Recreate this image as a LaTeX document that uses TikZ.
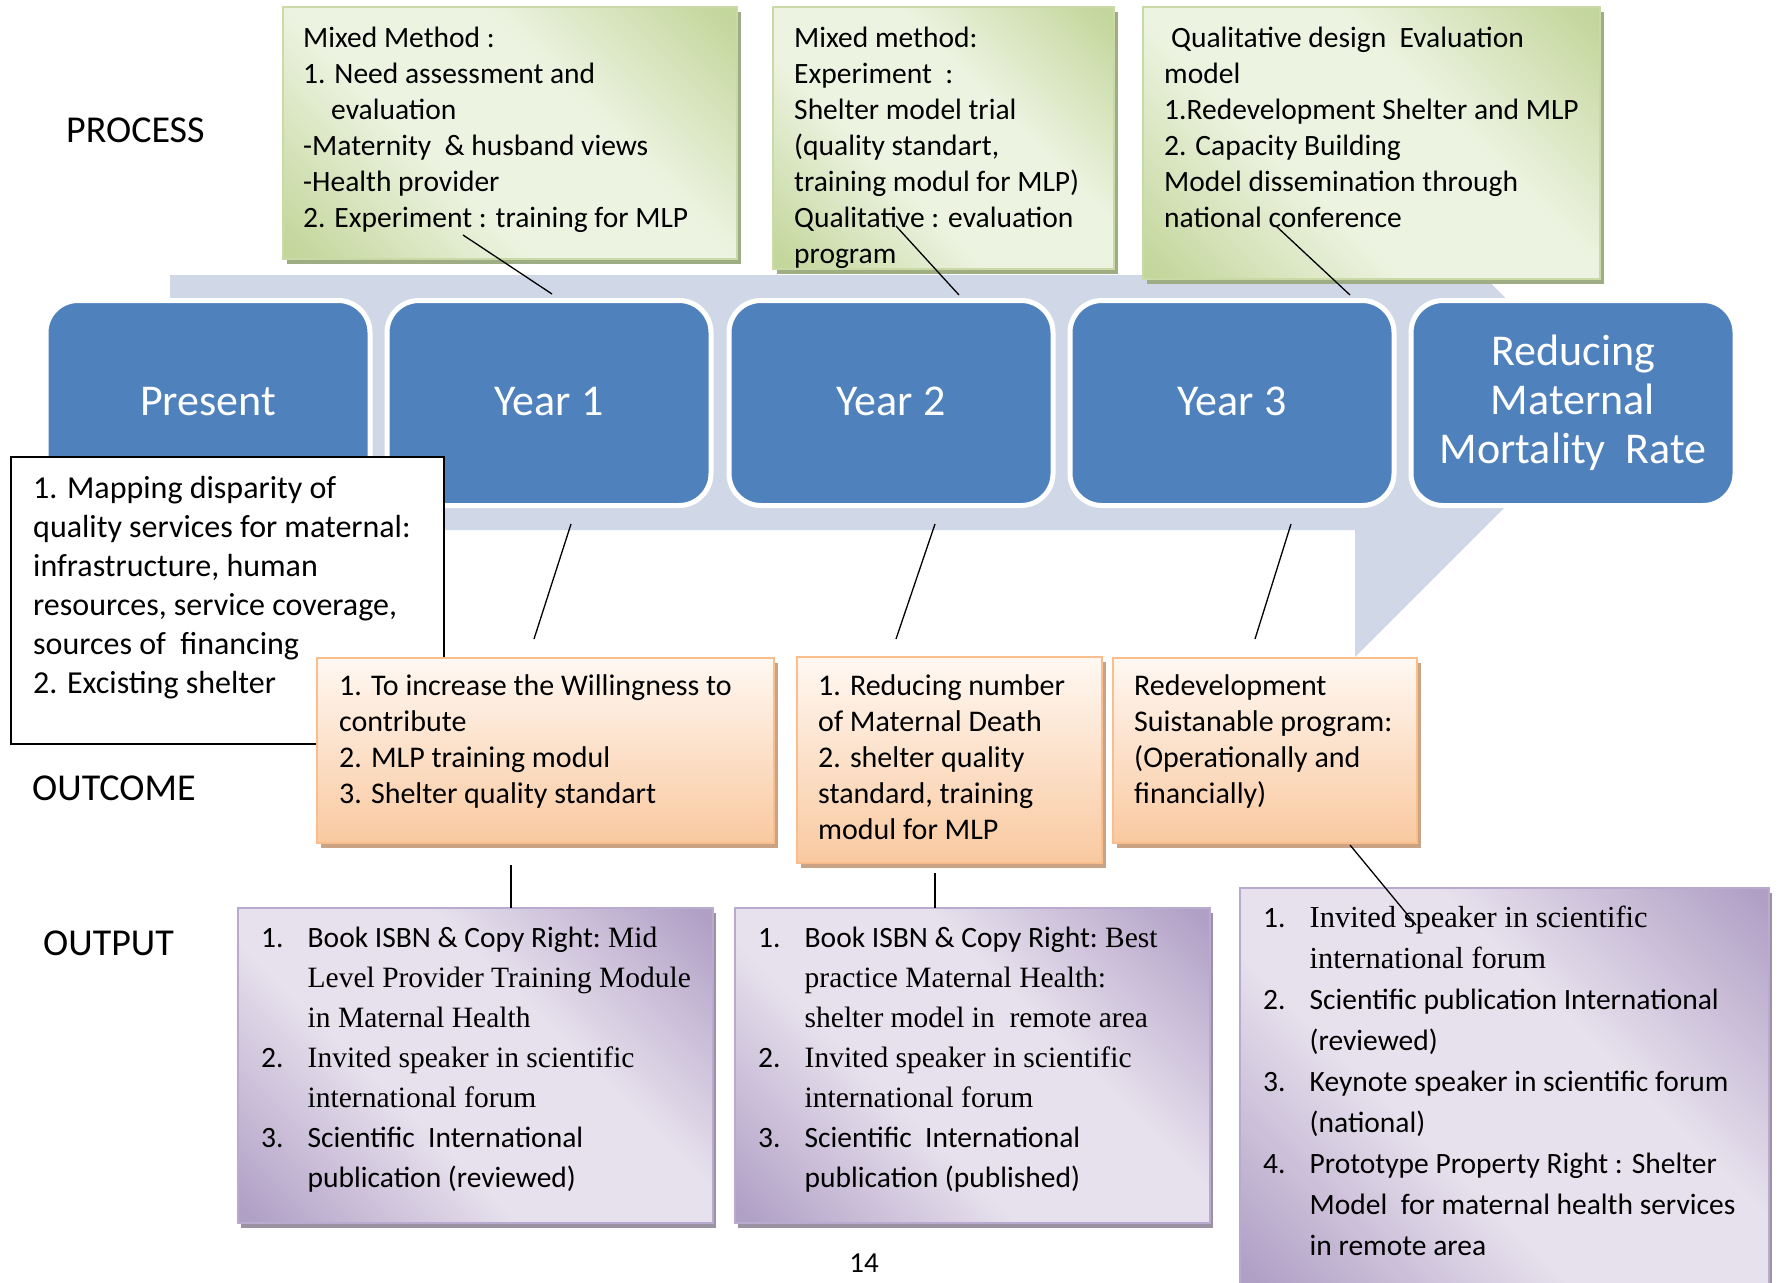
\documentclass[tikz,border=0pt]{standalone}
\usepackage{fontspec}
\setmainfont{Carlito}
\newfontfamily\tms{Liberation Serif}
\usetikzlibrary{shadows}
\definecolor{bandC}{HTML}{D0D8E8}
\definecolor{blueF}{HTML}{4F81BD}
\definecolor{gLight}{HTML}{EDF3E1}
\definecolor{gDark}{HTML}{C3D69B}
\definecolor{gBorder}{HTML}{C9DAA6}
\definecolor{gShadow}{HTML}{9EAD84}
\definecolor{oTop}{HTML}{FFF8F2}
\definecolor{oBot}{HTML}{F9C9A0}
\definecolor{oBorder}{HTML}{F9BE8C}
\definecolor{oShadow}{HTML}{C9A383}
\definecolor{pLight}{HTML}{E7E1ED}
\definecolor{pDark}{HTML}{B1A0C6}
\definecolor{pBorder}{HTML}{B9AACF}
\definecolor{pShadow}{HTML}{9A92A3}
\pgfdeclareverticalshading{gdiag}{100bp}{color(0bp)=(gDark); color(16bp)=(gDark); color(40bp)=(gLight); color(60bp)=(gLight); color(84bp)=(gDark); color(100bp)=(gDark)}
\pgfdeclareverticalshading{pdiag}{100bp}{color(0bp)=(pDark); color(16bp)=(pDark); color(40bp)=(pLight); color(60bp)=(pLight); color(84bp)=(pDark); color(100bp)=(pDark)}
\newcommand\pnum[1]{\makebox[46.5pt][l]{#1}}
\newcommand\pind{\makebox[46.5pt][l]{}}
\begin{document}
\begin{tikzpicture}[x=1pt,y=-1pt,
  bluebox/.style={rectangle, rounded corners=32pt, fill=blueF, draw=white, line width=5pt,
    minimum width=324pt, minimum height=205pt, inner sep=0pt},
  greenbox/.style={rectangle, inner sep=0pt, draw=gBorder, line width=1.5pt,
    shading=gdiag, shading angle=-45,
    drop shadow={shadow xshift=4pt, shadow yshift=-5pt, fill=gShadow, opacity=1}},
  orangebox/.style={rectangle, inner sep=0pt, draw=oBorder, line width=2pt,
    top color=oTop, bottom color=oBot,
    drop shadow={shadow xshift=4pt, shadow yshift=-5pt, fill=oShadow, opacity=1}},
  purplebox/.style={rectangle, inner sep=0pt, draw=pBorder, line width=2pt,
    shading=pdiag, shading angle=-45,
    drop shadow={shadow xshift=3pt, shadow yshift=-5pt, fill=pShadow, opacity=1}},
  whitebox/.style={rectangle, inner sep=0pt, draw=black, line width=1.8pt, fill=white},
  lab/.style={anchor=base west, inner sep=0pt, font=\fontsize{38}{44}\selectfont},
  btext/.style={anchor=base, inner sep=0pt, text=white, align=center, font=\fontsize{44}{49}\selectfont},
  gtext/.style={anchor=base west, inner sep=0pt, align=left, font=\fontsize{29.5}{36}\selectfont},
  wtext/.style={anchor=base west, inner sep=0pt, align=left, font=\fontsize{32}{39}\selectfont},
  otext/.style={anchor=base west, inner sep=0pt, align=left, font=\fontsize{30}{36}\selectfont},
  ptext/.style={anchor=base west, inner sep=0pt, align=left, font=\fontsize{29.5}{40}\selectfont},
  pthree/.style={anchor=base west, inner sep=0pt, align=left, font=\fontsize{29.5}{41}\selectfont},
  conn/.style={draw=black, line width=1.3pt}
]
\useasboundingbox (0,0) rectangle (1779,1282);
\clip (0,0) rectangle (1779,1282);

% background arrow
\fill[bandC] (170,275) -- (1355,275) -- (1355,148) -- (1610,402) -- (1355,657)
  -- (1355,530) -- (170,530) -- cycle;

% blue boxes
\node[bluebox] (present) at (208,403) {};
\node[bluebox] (y1) at (549,403) {};
\node[bluebox] (y2) at (891,403) {};
\node[bluebox] (y3) at (1232,403) {};
\node[bluebox] (red) at (1573,403) {};
\node[btext] (presentT) at (208,415) {Present};
\node[btext] (y1T) at (549,415) {Year 1};
\node[btext] (y2T) at (891,415) {Year 2};
\node[btext] (y3T) at (1232,415) {Year 3};
\node[btext] (redT) at (1573,463) {Reducing\\Maternal\\Mortality\ \ Rate};

% white box
\node[whitebox, minimum width=433pt, minimum height=287pt] (wbox) at (227.5,600.5) {};
\node[wtext] (wboxT) at (33,693) {1. Mapping disparity of\\quality services for maternal:\\infrastructure, human\\resources, service coverage,\\sources of\ \ financing\\2. Excisting shelter};

% green boxes
\node[greenbox, minimum width=454pt, minimum height=252pt] (g1) at (510,133) {};
\node[greenbox, minimum width=341pt, minimum height=262pt] (g2) at (943.5,138) {};
\node[greenbox, minimum width=457pt, minimum height=272pt] (g3) at (1371.5,143) {};
\node[gtext] (g1T) at (303,227) {Mixed Method :\\1. Need assessment and\\\makebox[28pt]{}evaluation\\-Maternity\ \ \& husband views\\-Health provider\\2. Experiment : training for MLP};
\begin{scope}
\clip (774,8) rectangle (1113,268);
\node[gtext] (g2T) at (794,263) {Mixed method:\\Experiment\ \ :\\Shelter model trial\\(quality standart,\\training modul for MLP)\\Qualitative : evaluation\\program};
\end{scope}
\node[gtext] (g3T) at (1164,227) {\makebox[7pt]{}Qualitative design\ \ Evaluation\\model\\1.Redevelopment Shelter and MLP\\2. Capacity Building\\Model dissemination through\\national conference};

% connectors process -> years
\coordinate (c1a) at (463,235); \coordinate (c1b) at (552,294);
\coordinate (c2a) at (896,226); \coordinate (c2b) at (959,295);
\coordinate (c3a) at (1276,226); \coordinate (c3b) at (1350,295);
\draw[conn] (c1a) -- (c1b);
\draw[conn] (c2a) -- (c2b);
\draw[conn] (c3a) -- (c3b);

% orange boxes
\node[orangebox, minimum width=457pt, minimum height=185pt] (o1) at (545.5,750.5) {};
\node[orangebox, minimum width=305pt, minimum height=206pt] (o2) at (949.5,760) {};
\node[orangebox, minimum width=304pt, minimum height=185pt] (o3) at (1265,750.5) {};
\node[otext] (o1T) at (339,803) {1. To increase the Willingness to\\contribute\\2. MLP training modul\\3. Shelter quality standart};
\node[otext] (o2T) at (818,839) {1. Reducing number\\of Maternal Death\\2. shelter quality\\standard, training\\modul for MLP};
\node[otext] (o3T) at (1134,803) {Redevelopment\\Suistanable program:\\(Operationally and\\financially)};

% connectors years -> outcomes
\coordinate (c4a) at (571,524); \coordinate (c4b) at (534,639);
\coordinate (c5a) at (935,524); \coordinate (c5b) at (896,639);
\coordinate (c6a) at (1291,524); \coordinate (c6b) at (1255,639);
\draw[conn] (c4a) -- (c4b);
\draw[conn] (c5a) -- (c5b);
\draw[conn] (c6a) -- (c6b);

% purple boxes
\node[purplebox, minimum width=475pt, minimum height=315pt] (p1) at (475.5,1065.5) {};
\node[purplebox, minimum width=475pt, minimum height=315pt] (p2) at (972.5,1065.5) {};
\node[purplebox, minimum width=529pt, minimum height=396pt] (p3) at (1504.5,1086) {};
\node[ptext] (p1T) at (261,1187) {\pnum{1.}Book ISBN \& Copy Right:{\tms\ Mid}\\\pind{\tms Level Provider Training Module}\\\pind{\tms in Maternal Health}\\\pnum{2.}{\tms Invited speaker in scientific}\\\pind{\tms international forum}\\\pnum{3.}Scientific\ \ International\\\pind publication (reviewed)};
\node[ptext] (p2T) at (758,1187) {\pnum{1.}Book ISBN \& Copy Right:{\tms\ Best}\\\pind{\tms practice Maternal Health:}\\\pind{\tms shelter model in\ \ remote area}\\\pnum{2.}{\tms Invited speaker in scientific}\\\pind{\tms international forum}\\\pnum{3.}Scientific\ \ International\\\pind publication (published)};
\node[pthree] (p3T) at (1263,1255) {\pnum{1.}{\tms\fontsize{30.5}{41}\selectfont Invited speaker in scientific}\\\pind{\tms\fontsize{30.5}{41}\selectfont international forum}\\\pnum{2.}Scientific publication International\\\pind(reviewed)\\\pnum{3.}Keynote speaker in scientific forum\\\pind(national)\\\pnum{4.}Prototype Property Right : Shelter\\\pind Model\ \ for maternal health services\\\pind in remote area};

% connectors outcomes -> outputs
\coordinate (c7a) at (511,865); \coordinate (c7b) at (511,908);
\coordinate (c8a) at (935,873); \coordinate (c8b) at (935,908);
\coordinate (c9a) at (1350,845); \coordinate (c9b) at (1416,925);
\draw[conn] (c7a) -- (c7b);
\draw[conn] (c8a) -- (c8b);
\draw[conn] (c9a) -- (c9b);

% row labels
\node[lab] (lprocess) at (66,142) {PROCESS};
\node[lab] (loutcome) at (32,800) {OUTCOME};
\node[lab] (loutput) at (43,955) {OUTPUT};

% page number
\node[anchor=base, inner sep=0pt, font=\fontsize{29}{34}\selectfont] (pagenum) at (864,1272) {14};
\end{tikzpicture}
\end{document}
